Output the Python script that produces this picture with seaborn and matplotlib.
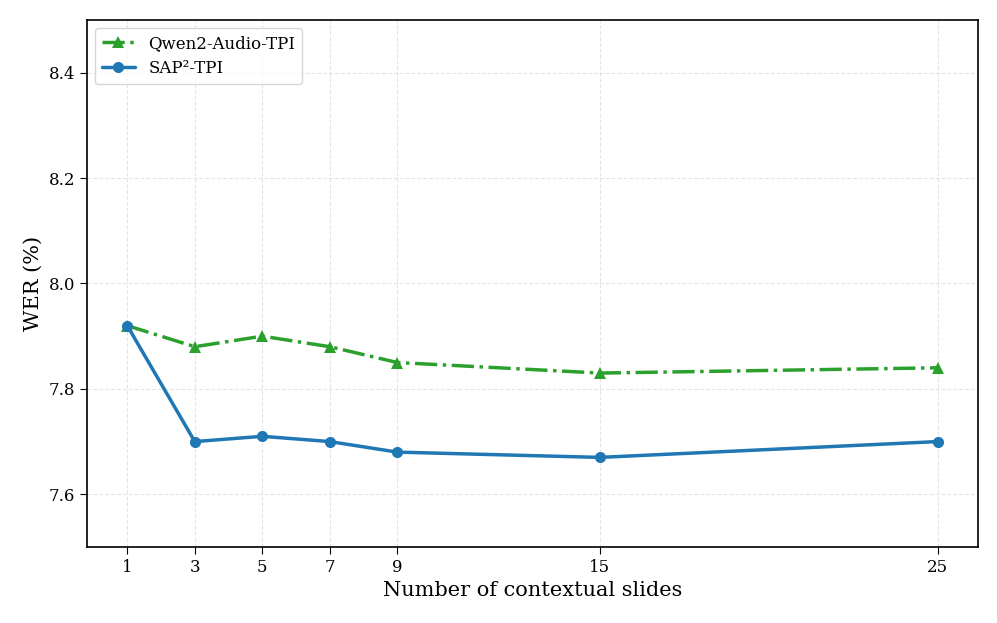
import matplotlib
matplotlib.use("Agg")
import matplotlib.pyplot as plt
import seaborn as sns
import pandas as pd

slides = [1, 3, 5, 7, 9, 15, 25]
qwen_wer = [7.92, 7.88, 7.90, 7.88, 7.85, 7.83, 7.84]
sap_wer = [7.92, 7.70, 7.71, 7.70, 7.68, 7.67, 7.70]
qwen_label = "Qwen2-Audio-TPI"
sap_label = "SAP²-TPI"
y_ticks = [7.6, 7.8, 8.0, 8.2, 8.4]

sns.set_style("ticks")
plt.rcParams['font.family'] = ['DejaVu Serif']
plt.rcParams['text.color'] = 'black'
plt.rcParams['axes.labelcolor'] = 'black'
plt.rcParams['xtick.color'] = 'black'
plt.rcParams['ytick.color'] = 'black'

fig, ax = plt.subplots(figsize=(9.97, 6.23), dpi=100)

df_q = pd.DataFrame({"x": slides, "y": qwen_wer})
df_s = pd.DataFrame({"x": slides, "y": sap_wer})

sns.lineplot(data=df_q, x="x", y="y", ax=ax, color="#2ca02c", linestyle="-.",
             marker="^", markersize=8, linewidth=2.5, label=qwen_label,
             markeredgewidth=0)
sns.lineplot(data=df_s, x="x", y="y", ax=ax, color="#1f77b4", linestyle="-",
             marker="o", markersize=8, linewidth=2.5, label=sap_label,
             markeredgewidth=0)

ax.set_xticks(slides)
ax.set_yticks(y_ticks)
ax.set_ylim(7.5, 8.5)
ax.set_xlabel("Number of contextual slides", fontsize=15)
ax.set_ylabel("WER (%)", fontsize=15)
ax.tick_params(labelsize=12, colors="black", length=5)
ax.grid(True, linestyle="--", alpha=0.5, color="#cccccc")
for s in ax.spines.values():
    s.set_visible(True)
    s.set_color("black")
    s.set_linewidth(1.2)
leg = ax.legend(loc="upper left", fontsize=12, frameon=True)
for t in leg.get_texts():
    t.set_color("black")

fig.subplots_adjust(left=0.087, right=0.981, top=0.968, bottom=0.122)
fig.savefig("out.png", dpi=100)
